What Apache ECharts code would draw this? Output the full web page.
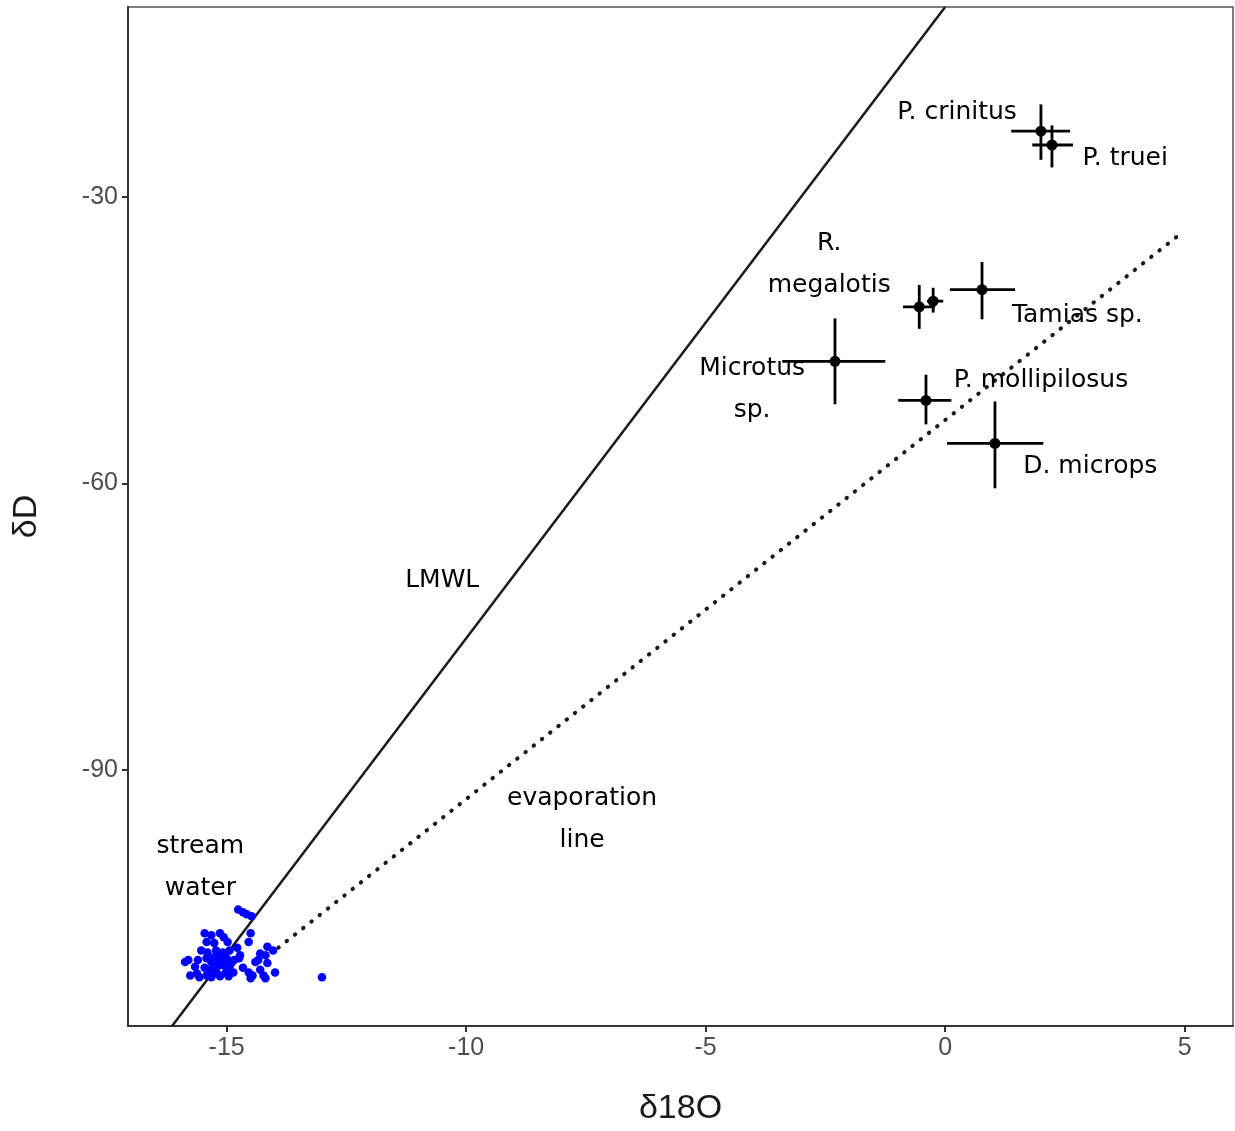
<!DOCTYPE html>
<html>
<head>
<meta charset="utf-8" />
<title>δD vs δ18O</title>
<script src="https://cdn.jsdelivr.net/npm/echarts@6/dist/echarts.min.js"></script>
<style>
  html, body { width: 100%; height: 100%; margin: 0; padding: 0; background: #fff; }
  #main { width: 1235px; height: 1131px; }
</style>
</head>
<body>
<div id="main"></div>
<script>
// axis ticks
var xTicks = [-15, -10, -5, 0, 5];
var yTicks = [-30, -60, -90];

// reference lines (two end points each)
var lmwlLine = [[-16.14, -116.8], [0.0, -10.1]];
var evapLine = [[-13.92, -108.6], [4.95, -33.7]];

// stream water samples [d18O, dD]
var streamWater = [
  [-14.76, -104.6], [-14.66, -104.9], [-14.58, -105.1], [-14.48, -105.3],
  [-15.46, -107.1], [-15.32, -107.3], [-15.14, -107.1], [-15.06, -107.5],
  [-15.42, -108.0], [-15.26, -108.1], [-14.98, -108.0], [-14.50, -107.1],
  [-14.54, -108.0], [-15.53, -108.9], [-15.40, -109.1], [-15.22, -108.9],
  [-15.08, -109.1], [-14.94, -108.9], [-14.78, -108.6], [-14.72, -109.4],
  [-15.80, -109.9], [-15.60, -109.9], [-15.42, -109.7], [-15.26, -109.6],
  [-15.14, -109.6], [-15.00, -109.7], [-14.84, -109.9], [-14.74, -109.7],
  [-15.66, -110.6], [-15.46, -110.7], [-15.26, -110.4], [-15.08, -110.4],
  [-14.94, -110.6], [-15.32, -110.1], [-15.18, -110.0], [-15.02, -110.1],
  [-15.62, -111.3], [-15.42, -111.5], [-15.20, -111.3], [-15.02, -111.2],
  [-14.86, -111.2], [-15.76, -111.5], [-15.57, -111.7], [-15.32, -111.7],
  [-15.14, -111.6], [-14.96, -111.6], [-14.66, -110.7], [-14.54, -111.2],
  [-14.46, -111.5], [-14.50, -111.8], [-14.30, -110.9], [-14.23, -111.5],
  [-14.19, -111.8], [-13.99, -111.2], [-14.15, -108.5], [-14.03, -108.9],
  [-14.30, -109.2], [-14.19, -109.4], [-14.40, -110.1], [-14.34, -109.9],
  [-14.15, -110.2], [-13.01, -111.7], [-15.20, -110.6], [-15.36, -110.9],
  [-14.90, -110.2], [-15.87, -110.1]
];

// species means with ranges
var speciesX    = [2.00, 2.23, -0.54, -0.25, 0.77, -2.30, -0.40, 1.04];
var speciesY    = [-23.1, -24.55, -41.5, -40.9, -39.7, -47.2, -51.3, -55.8];
var speciesXlo  = [1.38, 1.82, -0.88, -0.38, 0.10, -3.40, -0.98, 0.04];
var speciesXhi  = [2.61, 2.67, -0.21, -0.04, 1.46, -1.25, 0.13, 2.05];
var speciesYlo  = [-26.1, -26.9, -43.8, -42.1, -42.8, -51.7, -53.8, -60.5];
var speciesYhi  = [-20.3, -22.5, -39.2, -39.5, -36.8, -42.7, -48.6, -51.4];

// text annotations
var labelText = ['P. crinitus', 'P. truei', 'R.\nmegalotis', 'Tamias sp.', 'Microtus\nsp.',
  'P. mollipilosus', 'D. microps', 'LMWL', 'evaporation\nline', 'stream\nwater'];
var labelX = [0.25, 3.76, -2.42, 2.76, -4.03, 2.00, 3.03, -10.50, -7.58, -15.55];
var labelY = [-21.1, -26.0, -37.1, -42.4, -50.2, -49.2, -58.2, -70.1, -95.2, -100.2];

var ink = '#1a1a1a';
var axisGrey = '#333333';
var tickText = '#4d4d4d';
var fontFam = 'Liberation Sans, Arial, sans-serif';

var errData = speciesX.map(function (x, i) {
  return [x, speciesY[i], speciesXlo[i], speciesXhi[i], speciesYlo[i], speciesYhi[i]];
});
var ptData = speciesX.map(function (x, i) { return [x, speciesY[i]]; });
var lblData = labelText.map(function (t, i) { return { name: t, value: [labelX[i], labelY[i]] }; });

var chart = echarts.init(document.getElementById('main'), null, { renderer: 'canvas' });
chart.setOption({
  animation: false,
  backgroundColor: '#ffffff',
  grid: {
    left: 128, top: 7, right: 2, bottom: 105,
    show: true, borderColor: '#555555', borderWidth: 1.5, backgroundColor: 'transparent'
  },
  xAxis: {
    type: 'value', min: -17.06, max: 6.01,
    name: 'δ18O', nameLocation: 'middle', nameGap: 66,
    nameTextStyle: { fontFamily: fontFam, fontSize: 34, color: ink },
    axisLine: { show: true, onZero: false, lineStyle: { color: axisGrey, width: 2 } },
    axisTick: { show: true, length: 6, customValues: xTicks, lineStyle: { color: axisGrey, width: 2 } },
    axisLabel: { customValues: xTicks, margin: 10, fontFamily: fontFam, fontSize: 25, color: tickText },
    splitLine: { show: false }
  },
  yAxis: {
    type: 'value', min: -116.8, max: -10.1,
    name: 'δD', nameLocation: 'middle', nameGap: 84, nameRotate: 90,
    nameTextStyle: { fontFamily: fontFam, fontSize: 34, color: ink },
    axisLine: { show: true, onZero: false, lineStyle: { color: axisGrey, width: 2 } },
    axisTick: { show: true, length: 6, customValues: yTicks, lineStyle: { color: axisGrey, width: 2 } },
    axisLabel: { customValues: yTicks, margin: 10, fontFamily: fontFam, fontSize: 25, color: tickText },
    splitLine: { show: false }
  },
  series: [
    {
      name: 'LMWL', type: 'line', data: lmwlLine, symbol: 'none', clip: true,
      lineStyle: { color: ink, width: 2.5 }, z: 2
    },
    {
      name: 'evaporation', type: 'line', data: evapLine, symbol: 'none', clip: true,
      lineStyle: { color: ink, width: 4, type: [0.5, 10], cap: 'round' }, z: 2
    },
    {
      name: 'stream water', type: 'scatter', data: streamWater, symbolSize: 8.5,
      itemStyle: { color: '#0000ff', opacity: 1 }, z: 3
    },
    {
      name: 'ranges', type: 'custom', data: errData, z: 4,
      renderItem: function (params, api) {
        var c = api.coord([api.value(0), api.value(1)]);
        var xl = api.coord([api.value(2), api.value(1)]);
        var xh = api.coord([api.value(3), api.value(1)]);
        var yl = api.coord([api.value(0), api.value(4)]);
        var yh = api.coord([api.value(0), api.value(5)]);
        var st = { stroke: '#000000', lineWidth: 2.8 };
        return {
          type: 'group',
          children: [
            { type: 'line', shape: { x1: xl[0], y1: c[1], x2: xh[0], y2: c[1] }, style: st },
            { type: 'line', shape: { x1: c[0], y1: yl[1], x2: c[0], y2: yh[1] }, style: st }
          ]
        };
      }
    },
    {
      name: 'species', type: 'scatter', data: ptData, symbolSize: 11,
      itemStyle: { color: '#000000', opacity: 1 }, z: 5
    },
    {
      name: 'labels', type: 'scatter', data: lblData, symbolSize: 0, z: 6, silent: true,
      itemStyle: { opacity: 1 },
      label: {
        show: true, position: 'inside', formatter: '{b}', opacity: 1,
        fontFamily: 'DejaVu Sans, sans-serif', fontSize: 25, color: '#000000',
        lineHeight: 42, align: 'center', textBorderWidth: 0
      }
    }
  ]
});
</script>
</body>
</html>
